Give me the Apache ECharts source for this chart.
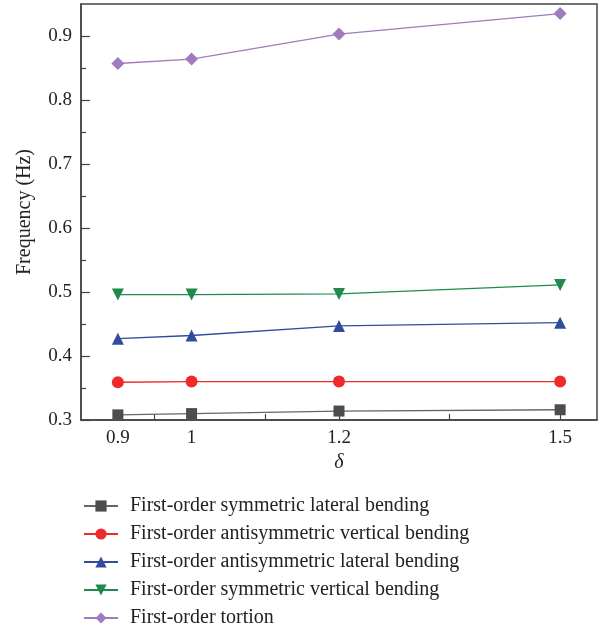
<!DOCTYPE html>
<html>
<head>
<meta charset="utf-8">
<script src="https://cdn.jsdelivr.net/npm/echarts@6/dist/echarts.min.js"></script>
<style>html,body{margin:0;padding:0;background:#fff}#c{width:599px;height:630px}</style>
</head>
<body>
<div id="c"></div>
<script>
const deltas = [0.9, 1, 1.2, 1.5];
const xTickLabels = [0.9, 1, 1.2, 1.5];
const xTicks = [0.9, 0.95, 1, 1.1, 1.2, 1.35, 1.5];
const yTickLabels = [0.3, 0.4, 0.5, 0.6, 0.7, 0.8, 0.9];
const yMinorTicks = [0.35, 0.45, 0.55, 0.65, 0.75, 0.85];
const symLateral = [0.308, 0.310, 0.314, 0.316];
const antiVertical = [0.359, 0.360, 0.360, 0.360];
const antiLateral = [0.427, 0.432, 0.447, 0.452];
const symVertical = [0.496, 0.496, 0.497, 0.511];
const tortion = [0.857, 0.864, 0.903, 0.935];
const seriesNames = [
  'First-order symmetric lateral bending',
  'First-order antisymmetric vertical bending',
  'First-order antisymmetric lateral bending',
  'First-order symmetric vertical bending',
  'First-order tortion'
];

const FONT = '"Liberation Serif", "DejaVu Serif", serif';
const pts = arr => deltas.map((d, i) => [d, arr[i]]);
const mk = (name, data, color, symbol, size, lineColor) => ({
  name, type: 'line', data: pts(data), symbol, symbolSize: size,
  lineStyle: { color: lineColor || color, width: 1.3 },
  itemStyle: { color },
  z: 3
});

const chart = echarts.init(document.getElementById('c'), null, { renderer: 'canvas' });
chart.setOption({
  animation: false,
  textStyle: { fontFamily: FONT },
  grid: { left: 81, right: 2, top: 4, bottom: 210, show: true, borderColor: '#444', borderWidth: 1.5, backgroundColor: 'transparent' },
  xAxis: {
    type: 'value', min: 0.85, max: 1.55,
    name: 'δ', nameLocation: 'middle', nameGap: 32,
    nameTextStyle: { fontFamily: FONT, fontStyle: 'italic', fontSize: 20, color: '#222' },
    axisLine: { show: true, onZero: false, lineStyle: { color: '#444', width: 1.5 } },
    axisTick: { show: true, inside: true, length: 6, customValues: xTicks, lineStyle: { color: '#444', width: 1.2 } },
    axisLabel: { customValues: xTickLabels, fontFamily: FONT, fontSize: 19, color: '#222', margin: 9 },
    splitLine: { show: false }
  },
  yAxis: [{
    type: 'value', min: 0.3, max: 0.95,
    name: 'Frequency (Hz)', nameLocation: 'middle', nameGap: 46, nameRotate: 90,
    nameTextStyle: { fontFamily: FONT, fontSize: 20, color: '#222' },
    axisLine: { show: true, lineStyle: { color: '#444', width: 1.5 } },
    axisTick: { show: true, inside: true, length: 9, customValues: yTickLabels, lineStyle: { color: '#444', width: 1.2 } },
    axisLabel: { customValues: yTickLabels, fontFamily: FONT, fontSize: 19, color: '#222', margin: 9 },
    splitLine: { show: false }
  }, {
    type: 'value', min: 0.3, max: 0.95, position: 'left', offset: 0,
    axisLine: { show: false },
    axisTick: { show: true, inside: true, length: 5, customValues: yMinorTicks, lineStyle: { color: '#444', width: 1.2 } },
    axisLabel: { show: false },
    splitLine: { show: false }
  }],
  legend: {
    orient: 'vertical', left: 78, top: 490, height: 140,
    itemWidth: 34, itemHeight: 14, itemGap: 6,
    data: seriesNames,
    textStyle: { fontFamily: FONT, fontSize: 20, color: '#222', lineHeight: 22, padding: [0, 0, 0, 7] }
  },
  series: [
    mk(seriesNames[0], symLateral, '#4d4d4d', 'rect', 11, '#666'),
    mk(seriesNames[1], antiVertical, '#ef2a2a', 'circle', 12),
    mk(seriesNames[2], antiLateral, '#2f4c9e', 'triangle', 12),
    Object.assign(mk(seriesNames[3], symVertical, '#1f8a4c', 'triangle', 12), { symbolRotate: 180 }),
    mk(seriesNames[4], tortion, '#a07bbd', 'diamond', 13)
  ]
});
</script>
</body>
</html>
